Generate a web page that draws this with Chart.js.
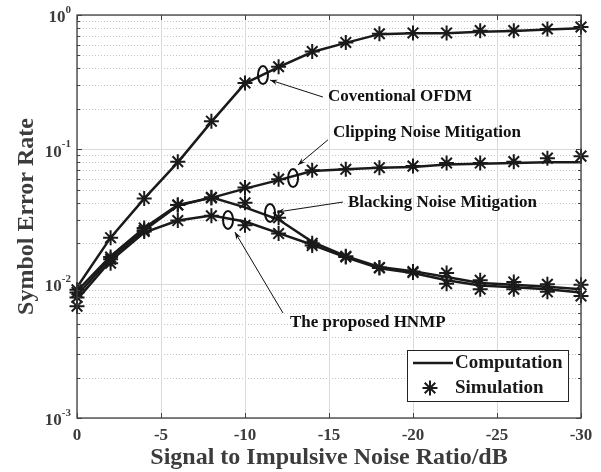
<!DOCTYPE html>
<html>
<head>
<meta charset="utf-8">
<script src="https://cdn.jsdelivr.net/npm/chart.js@4/dist/chart.umd.min.js"></script>
<style>
html,body{margin:0;padding:0;background:#fff;}
#wrap{width:601px;height:472px;position:relative;}
</style>
</head>
<body>
<div id="wrap"><canvas id="c" width="601" height="472"></canvas></div>
<script>
// ---- data ----
const snr = [0,-2,-4,-6,-8,-10,-12,-14,-16,-18,-20,-22,-24,-26,-28,-30];
const xTicks = [0,-5,-10,-15,-20,-25,-30];
const xTickLabels = ['0','-5','-10','-15','-20','-25','-30'];
const yDecades = [1e-3,1e-2,1e-1,1];
const yDecadeExp = ['-3','-2','-1','0'];

const ofdmComp  = [0.0094,0.022,0.043,0.080,0.160,0.310,0.410,0.530,0.620,0.720,0.730,0.730,0.750,0.760,0.780,0.796];
const ofdmSim   = [0.0090,0.022,0.043,0.081,0.162,0.312,0.412,0.535,0.625,0.725,0.735,0.735,0.765,0.765,0.787,0.814];
const clipComp  = [0.0088,0.0160,0.026,0.0385,0.0435,0.051,0.059,0.069,0.071,0.073,0.074,0.077,0.078,0.079,0.080,0.080];
const clipSim   = [0.0086,0.0158,0.026,0.0385,0.0435,0.052,0.060,0.070,0.071,0.073,0.075,0.079,0.079,0.081,0.086,0.089];
const blackComp = [0.0082,0.0155,0.025,0.038,0.044,0.037,0.030,0.0205,0.0160,0.0133,0.0124,0.0112,0.0101,0.0098,0.0095,0.0091];
const blackSim  = [0.0079,0.0152,0.025,0.0385,0.044,0.040,0.031,0.0200,0.0160,0.0132,0.0123,0.0120,0.0106,0.0103,0.0099,0.0098];
const hnmpComp  = [0.0076,0.0148,0.024,0.0295,0.0322,0.029,0.0238,0.0195,0.0157,0.0130,0.0120,0.0106,0.0097,0.0094,0.0091,0.0086];
const hnmpSim   = [0.0068,0.0142,0.0245,0.0295,0.0320,0.0272,0.0236,0.0192,0.0158,0.0131,0.0121,0.0100,0.0091,0.0091,0.0087,0.0081];

const legendLabels = ['Computation','Simulation'];
const xTitle = 'Signal to Impulsive Noise Ratio/dB';
const yTitle = 'Symbol Error Rate';

// annotation callouts (data coordinates)
const notes = [
  {text:'Coventional OFDM',          ex:-11.07, ey:0.357,  hx:-11.49, hy:0.328,  tx:-14.64, ty:0.245,  lx:-14.94, ly:0.245},
  {text:'Clipping Noise Mitigation', ex:-12.86, ey:0.0611, hx:-13.15, hy:0.0765, tx:-14.94, ty:0.1177, lx:-15.24, ly:0.134},
  {text:'Blacking Noise Mitigation', ex:-11.49, ey:0.0336, hx:-11.90, hy:0.0341, tx:-15.83, ty:0.0405, lx:-16.13, ly:0.0398},
  {text:'The proposed HNMP',         ex:-8.99,  ey:0.0298, hx:-9.40,  hy:0.0242, tx:-12.26, ty:0.00605,lx:-12.68, ly:0.00516}
];

const pts = arr => snr.map((x,i)=>({x:x,y:arr[i]}));
const LINE = '#1a1a1a';
function compDS(arr){return {data:pts(arr),borderColor:LINE,borderWidth:2.5,pointRadius:0,fill:false,tension:0,clip:false};}
function simDS(arr){return {data:pts(arr),showLine:false,pointStyle:'star',pointRadius:7.5,pointBorderWidth:2,pointBorderColor:LINE,pointBackgroundColor:LINE,borderColor:LINE,clip:false};}

const SERIF = '"Liberation Serif","Times New Roman",serif';
const AXC = '#3c3c3c';

const deco = {
  id:'deco',
  beforeDatasetsDraw(chart){
    const {ctx,chartArea:a,scales:{x,y}} = chart;
    ctx.save();
    ctx.strokeStyle='#c4c4c4'; ctx.lineWidth=1; ctx.setLineDash([1,2]);
    for(let e=-3;e<0;e++){
      for(let m=2;m<=9;m++){
        const py=Math.round(y.getPixelForValue(m*Math.pow(10,e)))+0.5;
        ctx.beginPath();ctx.moveTo(a.left,py);ctx.lineTo(a.right,py);ctx.stroke();
      }
    }
    ctx.setLineDash([]);
    ctx.strokeStyle='#dadada';
    yDecades.forEach(v=>{const py=Math.round(y.getPixelForValue(v))+0.5;ctx.beginPath();ctx.moveTo(a.left,py);ctx.lineTo(a.right,py);ctx.stroke();});
    xTicks.forEach(v=>{const px=Math.round(x.getPixelForValue(v))+0.5;ctx.beginPath();ctx.moveTo(px,a.top);ctx.lineTo(px,a.bottom);ctx.stroke();});
    ctx.restore();
  },
  afterDraw(chart){
    const {ctx,chartArea:a,scales:{x,y}} = chart;
    ctx.save();
    ctx.strokeStyle='#404040'; ctx.lineWidth=1.3;
    ctx.strokeRect(a.left,a.top,a.right-a.left,a.bottom-a.top);
    ctx.lineWidth=1;
    xTicks.forEach(v=>{const px=Math.round(x.getPixelForValue(v))+0.5;
      ctx.beginPath();ctx.moveTo(px,a.bottom);ctx.lineTo(px,a.bottom-5);ctx.moveTo(px,a.top);ctx.lineTo(px,a.top+5);ctx.stroke();});
    for(let e=-3;e<=0;e++){
      for(let m=1;m<=9;m++){
        if(e===0&&m>1)break;
        const py=Math.round(y.getPixelForValue(m*Math.pow(10,e)))+0.5;
        const L=m===1?5:3;
        ctx.beginPath();ctx.moveTo(a.left,py);ctx.lineTo(a.left+L,py);ctx.moveTo(a.right,py);ctx.lineTo(a.right-L,py);ctx.stroke();
      }
    }
    // x tick labels
    ctx.fillStyle=AXC; ctx.font='bold 17px '+SERIF; ctx.textAlign='center'; ctx.textBaseline='middle';
    xTicks.forEach((v,i)=>ctx.fillText(xTickLabels[i],x.getPixelForValue(v),a.bottom+18));
    // y tick labels with superscripts
    yDecades.forEach((v,i)=>{
      const py=y.getPixelForValue(v);
      ctx.font='bold 11px '+SERIF; ctx.textAlign='right'; ctx.textBaseline='middle';
      const ew=ctx.measureText(yDecadeExp[i]).width;
      ctx.fillText(yDecadeExp[i],a.left-6,py-5);
      ctx.font='bold 17px '+SERIF;
      ctx.fillText('10',a.left-6-ew,py+3);
    });
    // titles
    ctx.font='bold 24px '+SERIF; ctx.textAlign='center'; ctx.textBaseline='middle';
    ctx.fillText(xTitle,(a.left+a.right)/2,458);
    ctx.save(); ctx.translate(27,(a.top+a.bottom)/2); ctx.rotate(-Math.PI/2);
    ctx.fillText(yTitle,0,0); ctx.restore();

    // callouts
    ctx.strokeStyle='#111'; ctx.fillStyle='#111';
    notes.forEach(n=>{
      const ex=x.getPixelForValue(n.ex), ey=y.getPixelForValue(n.ey);
      ctx.lineWidth=2; ctx.beginPath(); ctx.ellipse(ex,ey,5,9,0,0,Math.PI*2); ctx.stroke();
      const hx=x.getPixelForValue(n.hx), hy=y.getPixelForValue(n.hy);
      const tx=x.getPixelForValue(n.tx), ty=y.getPixelForValue(n.ty);
      ctx.lineWidth=1; ctx.beginPath(); ctx.moveTo(tx,ty); ctx.lineTo(hx,hy); ctx.stroke();
      const ang=Math.atan2(hy-ty,hx-tx), L=8, W=0.35;
      ctx.beginPath(); ctx.moveTo(hx,hy);
      ctx.lineTo(hx-L*Math.cos(ang-W),hy-L*Math.sin(ang-W));
      ctx.lineTo(hx-L*0.6*Math.cos(ang),hy-L*0.6*Math.sin(ang));
      ctx.lineTo(hx-L*Math.cos(ang+W),hy-L*Math.sin(ang+W));
      ctx.closePath(); ctx.fill();
      ctx.font='bold 17px '+SERIF; ctx.textAlign='left'; ctx.textBaseline='middle';
      ctx.fillText(n.text,x.getPixelForValue(n.lx),y.getPixelForValue(n.ly));
    });

    // legend
    const bx=a.right-174, by=a.bottom-68, bw=161, bh=51;
    ctx.fillStyle='#fff'; ctx.fillRect(bx,by,bw,bh);
    ctx.strokeStyle='#222'; ctx.lineWidth=1; ctx.strokeRect(bx+0.5,by+0.5,bw,bh);
    ctx.strokeStyle=LINE; ctx.lineWidth=2.5;
    ctx.beginPath(); ctx.moveTo(bx+6,by+13); ctx.lineTo(bx+46,by+13); ctx.stroke();
    const sx=bx+23, sy=by+38, r=7.5; ctx.lineWidth=2;
    ctx.beginPath();
    for(let k=0;k<4;k++){const t=k*Math.PI/4;ctx.moveTo(sx-r*Math.cos(t),sy-r*Math.sin(t));ctx.lineTo(sx+r*Math.cos(t),sy+r*Math.sin(t));}
    ctx.stroke();
    ctx.fillStyle='#1a1a1a'; ctx.font='bold 19px '+SERIF; ctx.textAlign='left'; ctx.textBaseline='middle';
    ctx.fillText(legendLabels[0],bx+48,by+13);
    ctx.fillText(legendLabels[1],bx+48,by+38);
    ctx.restore();
  }
};

new Chart(document.getElementById('c'),{
  type:'line',
  data:{datasets:[
    compDS(ofdmComp),compDS(clipComp),compDS(blackComp),compDS(hnmpComp),
    simDS(ofdmSim),simDS(clipSim),simDS(blackSim),simDS(hnmpSim)
  ]},
  options:{
    responsive:false,animation:false,
    layout:{padding:{left:77,right:20,top:15,bottom:54}},
    plugins:{legend:{display:false},tooltip:{enabled:false}},
    scales:{
      x:{type:'linear',min:-30,max:0,reverse:true,display:false},
      y:{type:'logarithmic',min:0.001,max:1,display:false}
    }
  },
  plugins:[deco]
});
</script>
</body>
</html>
